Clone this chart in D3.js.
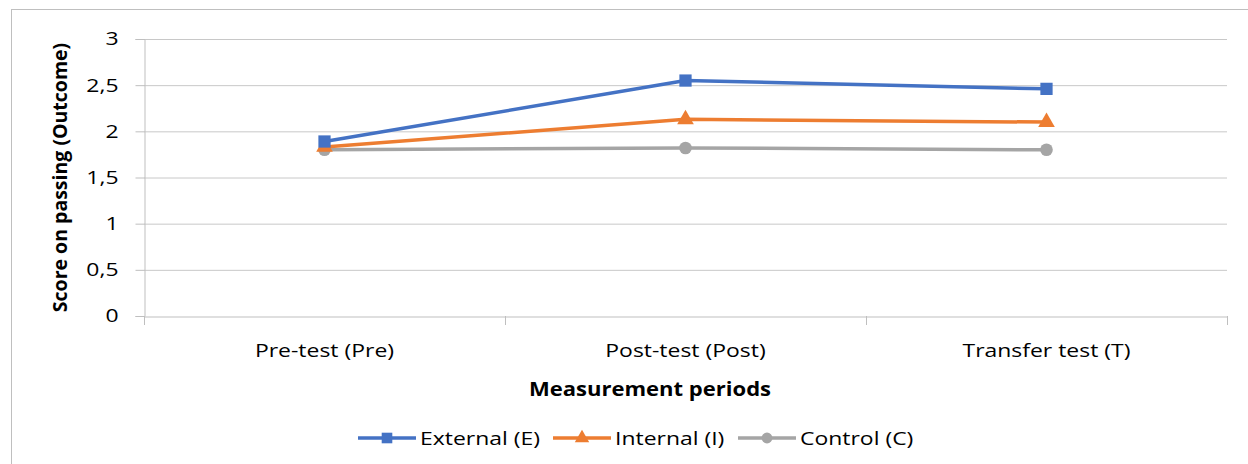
<!DOCTYPE html>
<html><head><meta charset="utf-8">
<script src="https://cdn.jsdelivr.net/npm/d3@7"></script>
<style>body{margin:0;background:#fff}svg{display:block;font-family:"Open Sans",sans-serif}</style>
</head><body><svg id="c" width="1248" height="464"></svg>
<script>
const categories = ["Pre-test (Pre)", "Post-test (Post)", "Transfer test (T)"];
const seriesNames = ["External (E)", "Internal (I)", "Control (C)"];
const external = [1.89, 2.55, 2.46];
const internal = [1.83, 2.13, 2.10];
const control = [1.80, 1.82, 1.80];
const yTicks = [0, 0.5, 1, 1.5, 2, 2.5, 3];
const yTickLabels = ["0", "0,5", "1", "1,5", "2", "2,5", "3"];
const colors = ["#4472C4", "#ED7D31", "#A5A5A5"];
const markers = [d3.symbolSquare, d3.symbolTriangle, d3.symbolCircle];
const FONT = '"Open Sans",sans-serif';
const SX = 1.24;

const svg = d3.select("#c");
const L = 144, R = 1227, T = 39, B = 316;
svg.append("rect").attr("x",11.5).attr("y",9.5).attr("width",1300).attr("height",500)
  .attr("fill","none").attr("stroke","#bfbfbf").attr("stroke-width",1);

const x = d3.scaleBand().domain(categories).range([L,R]).padding(0);
const y = d3.scaleLinear().domain([0,3]).range([B,T]);

svg.append("g").selectAll("line").data(yTicks.filter(v=>v>0)).join("line")
  .attr("x1",L).attr("x2",R).attr("y1",d=>y(d)+0.5).attr("y2",d=>y(d)+0.5)
  .attr("stroke","#c8c8c8").attr("stroke-width",1);

const ya = svg.append("g").attr("transform",`translate(${L+0.5},0)`)
  .call(d3.axisLeft(y).tickValues(yTicks).tickFormat((d,i)=>yTickLabels[i]).tickSizeOuter(0).tickSize(9).tickPadding(17));
ya.select(".domain").attr("stroke","#bfbfbf");
ya.selectAll(".tick line").attr("stroke","#bfbfbf");
ya.selectAll("text").attr("font-size",18.5).attr("fill","#000").attr("font-family",FONT)
  .attr("x",-26/SX).attr("transform",`scale(${SX},1)`);

const xa = svg.append("g").attr("transform",`translate(0,${B+0.5})`)
  .call(d3.axisBottom(x).tickSize(0).tickPadding(27).tickSizeOuter(0));
xa.select(".domain").attr("stroke","#bfbfbf");
xa.selectAll("text").attr("font-size",18.5).attr("fill","#000").attr("font-family",FONT)
  .attr("transform",`scale(${SX},1)`);
const bounds = [L].concat(categories.map(c=>x(c)+x.bandwidth()));
svg.append("g").selectAll("line").data(bounds).join("line")
  .attr("x1",d=>Math.round(d)+0.5).attr("x2",d=>Math.round(d)+0.5).attr("y1",B).attr("y2",B+9)
  .attr("stroke","#bfbfbf");

svg.append("text").attr("transform",`translate(650,396) scale(1.13,1)`).attr("text-anchor","middle")
  .attr("font-size",19.5).attr("font-weight","bold").text("Measurement periods");
svg.append("text").attr("transform",`translate(67,${(T+B)/2}) rotate(-90)`).attr("text-anchor","middle")
  .attr("font-size",19.5).attr("font-weight","bold").text("Score on passing (Outcome)");

const data = [external, internal, control];
const line = d3.line().x((d,i)=>x(categories[i])+x.bandwidth()/2).y(d=>y(d));
const msize = [150, 120, 125];
[2,1,0].forEach(s=>{
  const g = svg.append("g");
  g.append("path").attr("d",line(data[s])).attr("fill","none").attr("stroke",colors[s])
    .attr("stroke-width",3.5).attr("stroke-linejoin","round");
  g.selectAll("path.m").data(data[s]).join("path").attr("class","m")
    .attr("transform",(d,i)=>`translate(${x(categories[i])+x.bandwidth()/2},${y(d)})`)
    .attr("d",d3.symbol().type(markers[s]).size(msize[s])).attr("fill",colors[s]);
});

const legX = [358, 553, 738];
seriesNames.forEach((n,s)=>{
  const g = svg.append("g").attr("transform",`translate(${legX[s]},438)`);
  g.append("line").attr("x1",0).attr("x2",58).attr("stroke",colors[s]).attr("stroke-width",3.5);
  g.append("path").attr("transform","translate(29,0)").attr("d",d3.symbol().type(markers[s]).size(msize[s]*0.75)).attr("fill",colors[s]);
  g.append("text").attr("transform",`translate(62,7) scale(${SX},1)`).attr("font-size",18.5).text(n);
});
</script></body></html>
